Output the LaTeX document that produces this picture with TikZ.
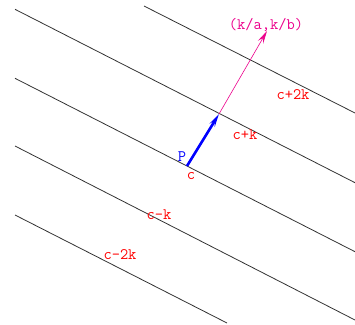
\documentclass[tikz,border=0pt]{standalone}
\usetikzlibrary{arrows.meta}
\begin{document}
\begin{tikzpicture}[x=1pt,y=-1pt,
  level/.style={draw=black!80,line width=0.8pt},
  lab/.style={font=\ttfamily\fontsize{16}{18}\selectfont,inner sep=0pt},
  tip/.style={-{Stealth[length=13pt,width=6pt,inset=5pt]}}]
\useasboundingbox (0,0) rectangle (355,324);
% level lines
\coordinate (l1a) at (144,6);   \coordinate (l1b) at (355,113);
\coordinate (l2a) at (15,9.3);  \coordinate (l2b) at (355,182.7);
\coordinate (l3a) at (15,78.3); \coordinate (l3b) at (355,251.7);
\coordinate (l4a) at (15,146);  \coordinate (l4b) at (355,320);
\coordinate (l5a) at (15,215);  \coordinate (l5b) at (227,323);
\draw[level] (l1a) -- (l1b);
\draw[level] (l2a) -- (l2b);
\draw[level] (l3a) -- (l3b);
\draw[level] (l4a) -- (l4b);
\draw[level] (l5a) -- (l5b);
% points
\coordinate (P) at (187,166);
\coordinate (Q) at (219,114);
\coordinate (R) at (267,31);
\draw[magenta,line width=0.6pt,tip] (Q) -- (R);
\draw[blue,line width=2.6pt,tip] (P) -- (Q);
% labels
\node[lab,text=magenta] (kab) at (266,25) {(k/a,k/b)};
\node[lab,text=red] (c2k) at (293,95) {c+2k};
\node[lab,text=red] (ck) at (245,135) {c+k};
\node[lab,text=blue] (pl) at (182,157) {P};
\node[lab,text=red] (cl) at (191,176) {c};
\node[lab,text=red] (cmk) at (159,215) {c-k};
\node[lab,text=red] (cm2k) at (120,255) {c-2k};
\end{tikzpicture}
\end{document}
